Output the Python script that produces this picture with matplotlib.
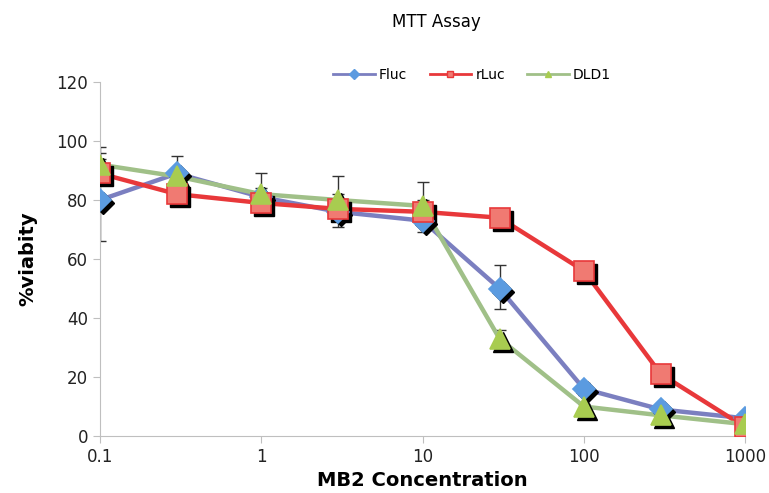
import matplotlib.pyplot as plt
import matplotlib.transforms as mtransforms
import numpy as np

conc = [0.1, 0.3, 1, 3, 10, 30, 100, 300, 1000]
fluc = [80, 89, 81, 76, 73, 50, 16, 9, 6]
rluc = [89, 82, 79, 77, 76, 74, 56, 21, 3]
dld1 = [92, 88, 82, 80, 78, 33, 10, 7, 4]
fluc_lo = [14, 3, 3, 5, 4, 7, 2, 1, 1]
fluc_hi = [16, 6, 8, 12, 13, 8, 2, 1, 1]
rluc_lo = [2, 1, 1, 1, 1, 1, 1, 1, 1]
rluc_hi = [5, 1, 1, 1, 1, 1, 3, 1, 1]
dld1_lo = [2, 1, 1, 1, 1, 1, 1, 1, 1]
dld1_hi = [6, 2, 2, 2, 2, 3, 1, 1, 1]

fig = plt.figure(figsize=(7.69, 4.93), dpi=100)
ax = fig.add_axes([0.130, 0.1156, 0.839, 0.718])

series = [
    ('Fluc', fluc, fluc_lo, fluc_hi, '#7b7fc0', '#5b9be0', '#5b9be0', 'D', 11),
    ('rLuc', rluc, rluc_lo, rluc_hi, '#e8383a', '#f07a72', '#e8383a', 's', 14),
    ('DLD1', dld1, dld1_lo, dld1_hi, '#a0c088', '#a8cc50', '#a8cc50', '^', 14),
]

# black drop shadow behind the markers
shadow = mtransforms.offset_copy(ax.transData, fig=fig, x=3, y=-3, units='dots')

for name, vals, lo, hi, lc, mfc, mec, mk, ms in series:
    ax.errorbar(conc, vals, yerr=[lo, hi], fmt='none', ecolor='#333333',
                elinewidth=1, capsize=4, zorder=1)
for name, vals, lo, hi, lc, mfc, mec, mk, ms in series:
    ax.plot(conc, vals, color=lc, lw=3.2, zorder=2)
    ax.plot(conc, vals, ls='none', marker=mk, ms=ms, color='black',
            transform=shadow, zorder=3)
for name, vals, lo, hi, lc, mfc, mec, mk, ms in series:
    ax.plot(conc, vals, ls='none', marker=mk, ms=ms, mfc=mfc, mec=mec,
            mew=1.2, zorder=4)
    ax.plot([], [], color=lc, lw=2, marker=mk, ms=5, mfc=mfc, mec=mec,
            label=name)

ax.set_xscale('log')
ax.set_xlim(0.1, 1000)
ax.set_ylim(0, 120)
ax.set_yticks(np.arange(0, 121, 20))
ax.set_xticks([0.1, 1, 10, 100, 1000])
ax.set_xticklabels(['0.1', '1', '10', '100', '1000'])
ax.minorticks_off()
for s in ['top', 'right']:
    ax.spines[s].set_visible(False)
for s in ['left', 'bottom']:
    ax.spines[s].set_color('#bfbfbf')
ax.tick_params(colors='#bfbfbf', labelcolor='#222222', labelsize=12,
               length=5, direction='out')

ax.set_xlabel('MB2 Concentration', fontsize=14, fontweight='bold', labelpad=4)
ax.set_ylabel('%viabity', fontsize=14, fontweight='bold', labelpad=14)
fig.text(0.567, 0.955, 'MTT Assay', ha='center', va='center', fontsize=12)

ax.legend(loc='center', bbox_to_anchor=(0.577, 1.02), ncol=3,
          frameon=False, fontsize=10, handlelength=3, columnspacing=1.6,
          handletextpad=0.3)

fig.savefig('out.png', dpi=100)
